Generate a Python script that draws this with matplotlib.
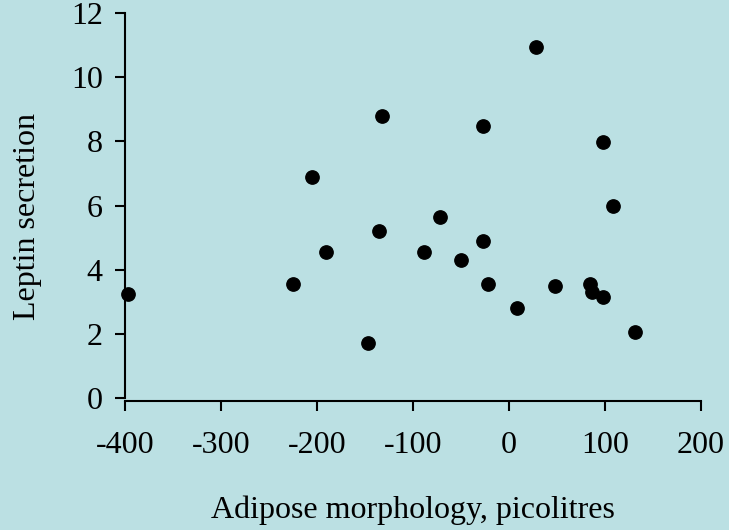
import matplotlib.pyplot as plt

# adipose morphology (picolitres) vs leptin secretion
morph = [-397, -225, -205, -191, -147, -135.5, -132, -88.6, -72, -50, -27,
         -27, -22, 8, 28, 48, 84, 86.5, 98, 98, 108, 131]
leptin = [3.24, 3.55, 6.89, 4.55, 1.71, 5.2, 8.79, 4.55, 5.64, 4.3, 4.89,
          8.48, 3.55, 2.8, 10.94, 3.49, 3.55, 3.3, 3.15, 7.98, 5.98, 2.06]

xticks = [-400, -300, -200, -100, 0, 100, 200]
yticks = [0, 2, 4, 6, 8, 10, 12]

bg = "#bbe0e3"
plt.rcParams['font.family'] = ['Liberation Serif', 'DejaVu Serif']

fig = plt.figure(figsize=(7.29, 5.30), dpi=100, facecolor=bg)
ax = fig.add_axes([125/729, 1 - 398/530, 576/729, 385/530])
ax.set_facecolor(bg)

ax.scatter(morph, leptin, s=92, color="black", zorder=3, clip_on=False)

ax.set_xlim(-400, 200)
ax.set_ylim(0, 12)
ax.set_xticks(xticks)
ax.set_yticks(yticks)
ax.set_xticklabels([str(v) for v in xticks])
ax.set_yticklabels([str(v) for v in yticks])

for s in ["top", "right"]:
    ax.spines[s].set_visible(False)
for s in ["left", "bottom"]:
    ax.spines[s].set_linewidth(1.5)
ax.spines["bottom"].set_position(("outward", 2))

ax.tick_params(axis="both", direction="out", length=7, width=1.5,
               labelsize=23, colors="black")
ax.tick_params(axis="x", pad=15)
ax.tick_params(axis="y", pad=9)

ax.set_xlabel("Adipose morphology, picolitres", fontsize=23, labelpad=25)
ax.set_ylabel("Leptin secretion", fontsize=23)
# label sits a bit below the axis middle in the original
ax.yaxis.set_label_coords((42 - 125) / 576, (398 - 217) / 385)

fig.savefig("out.png", dpi=100, facecolor=bg)
